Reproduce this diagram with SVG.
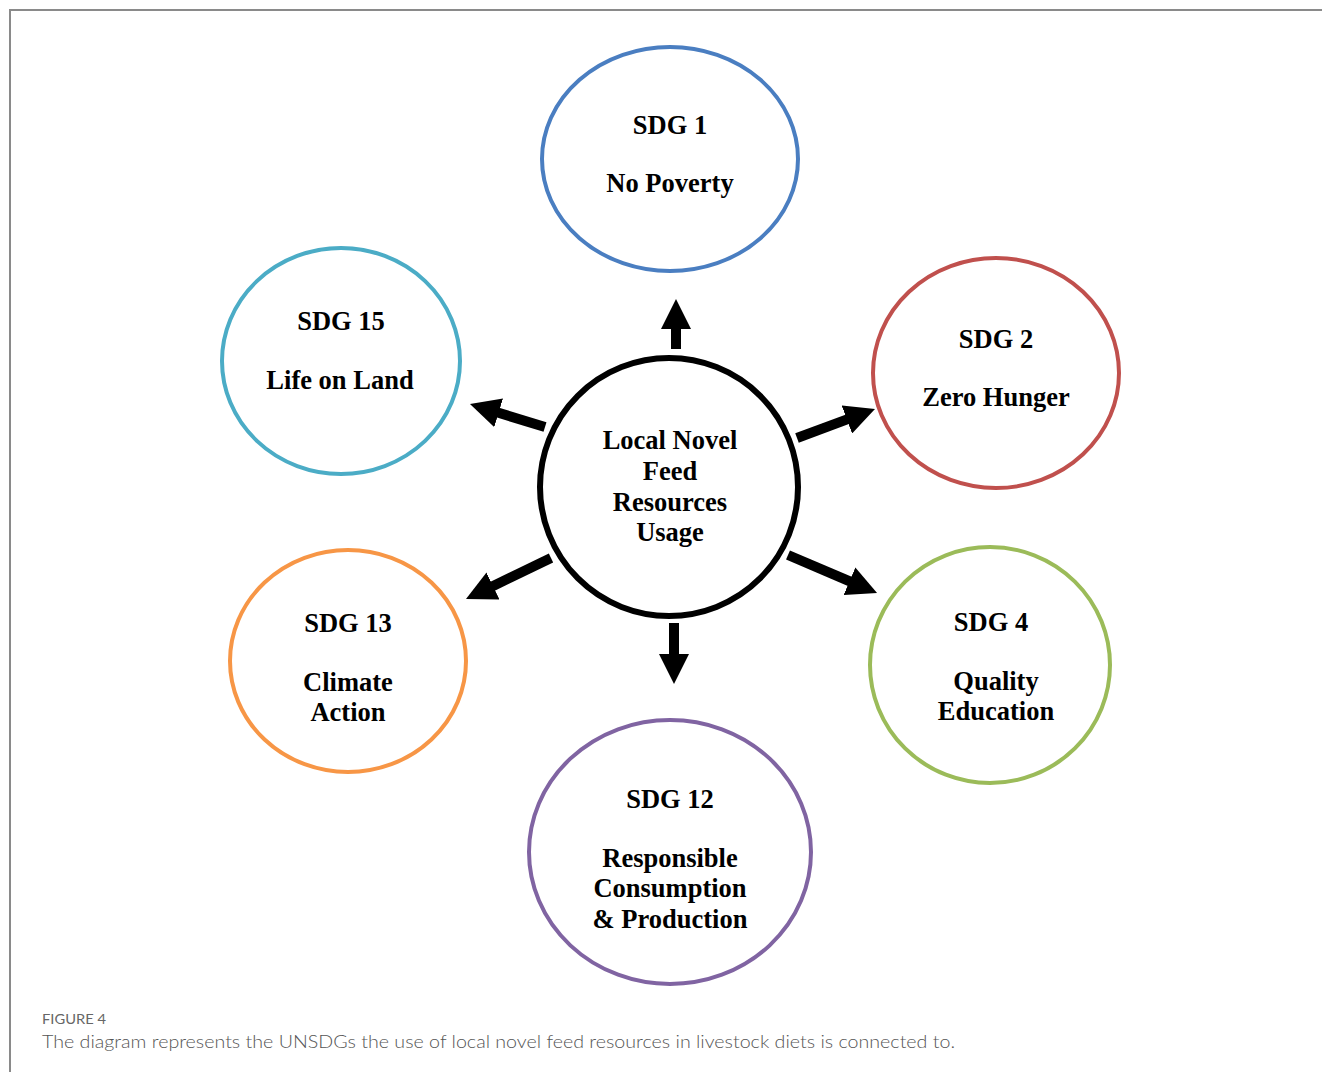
<svg xmlns="http://www.w3.org/2000/svg" width="1322" height="1072" viewBox="0 0 1322 1072">
<style>
.node{fill:#fff;stroke-width:4}
.t{font-family:"Liberation Serif","Times New Roman",serif;font-weight:bold;font-size:26.5px;fill:#000;text-anchor:middle}
.conn line{stroke:#000;stroke-width:10;stroke-linecap:butt}
.cap1{font-family:Lato,"Open Sans",sans-serif;font-size:14px;fill:#666}
.cap2{font-family:Lato,"Open Sans",sans-serif;font-weight:300;font-size:18px;fill:#555}
</style>
<defs>
<marker id="ah" markerUnits="userSpaceOnUse" viewBox="0 0 30 30" markerWidth="30" markerHeight="30" refX="1" refY="15" orient="auto">
<path d="M0,0 L30,15 L0,30 Z" fill="#000"/>
</marker>
</defs>
<rect width="1322" height="1072" fill="#fff"/>
<path d="M10,1072 V10 H1322" fill="none" stroke="#8a8a8a" stroke-width="2"/>

<g id="center">
<circle cx="669" cy="487" r="129" fill="#fff" stroke="#000" stroke-width="6"/>
<text class="t" x="670" y="449">Local Novel</text>
<text class="t" x="670" y="480">Feed</text>
<text class="t" x="670" y="511">Resources</text>
<text class="t" x="670" y="541">Usage</text>
</g>

<g id="sdg1">
<ellipse class="node" cx="670" cy="159" rx="128" ry="112" stroke="#4A7EC1"/>
<text class="t" x="670" y="134">SDG 1</text>
<text class="t" x="670" y="192">No Poverty</text>
</g>

<g id="sdg2">
<ellipse class="node" cx="996" cy="373" rx="123" ry="115" stroke="#C0504D"/>
<text class="t" x="996" y="348">SDG 2</text>
<text class="t" x="996" y="406">Zero Hunger</text>
</g>

<g id="sdg15">
<ellipse class="node" cx="341" cy="361" rx="119" ry="113" stroke="#4BACC6"/>
<text class="t" x="341" y="330">SDG 15</text>
<text class="t" x="340" y="389">Life on Land</text>
</g>

<g id="sdg13">
<ellipse class="node" cx="348" cy="661" rx="118" ry="111" stroke="#F79646"/>
<text class="t" x="348" y="632">SDG 13</text>
<text class="t" x="348" y="691">Climate</text>
<text class="t" x="348" y="721">Action</text>
</g>

<g id="sdg4">
<ellipse class="node" cx="990" cy="665" rx="120" ry="118" stroke="#9BBB59"/>
<text class="t" x="991" y="631">SDG 4</text>
<text class="t" x="996" y="690">Quality</text>
<text class="t" x="996" y="720">Education</text>
</g>

<g id="sdg12">
<ellipse class="node" cx="670" cy="852" rx="141" ry="132" stroke="#8064A2"/>
<text class="t" x="670" y="808">SDG 12</text>
<text class="t" x="670" y="867">Responsible</text>
<text class="t" x="670" y="897">Consumption</text>
<text class="t" x="670" y="928">&amp; Production</text>
</g>

<g id="connectors" class="conn">
<line x1="676" y1="349" x2="676" y2="328" marker-end="url(#ah)"/>
<line x1="674" y1="623" x2="674" y2="655" marker-end="url(#ah)"/>
<line x1="797" y1="438" x2="847.8" y2="419.1" marker-end="url(#ah)"/>
<line x1="788" y1="555" x2="850.4" y2="581.6" marker-end="url(#ah)"/>
<line x1="545" y1="427" x2="497.7" y2="412.5" marker-end="url(#ah)"/>
<line x1="551" y1="558" x2="492.1" y2="586.4" marker-end="url(#ah)"/>
</g>

<g id="caption">
<text class="cap1" x="42" y="1024" textLength="64" lengthAdjust="spacingAndGlyphs">FIGURE 4</text>
<text class="cap2" x="42" y="1048" textLength="913" lengthAdjust="spacingAndGlyphs">The diagram represents the UNSDGs the use of local novel feed resources in livestock diets is connected to.</text>
</g>
</svg>
